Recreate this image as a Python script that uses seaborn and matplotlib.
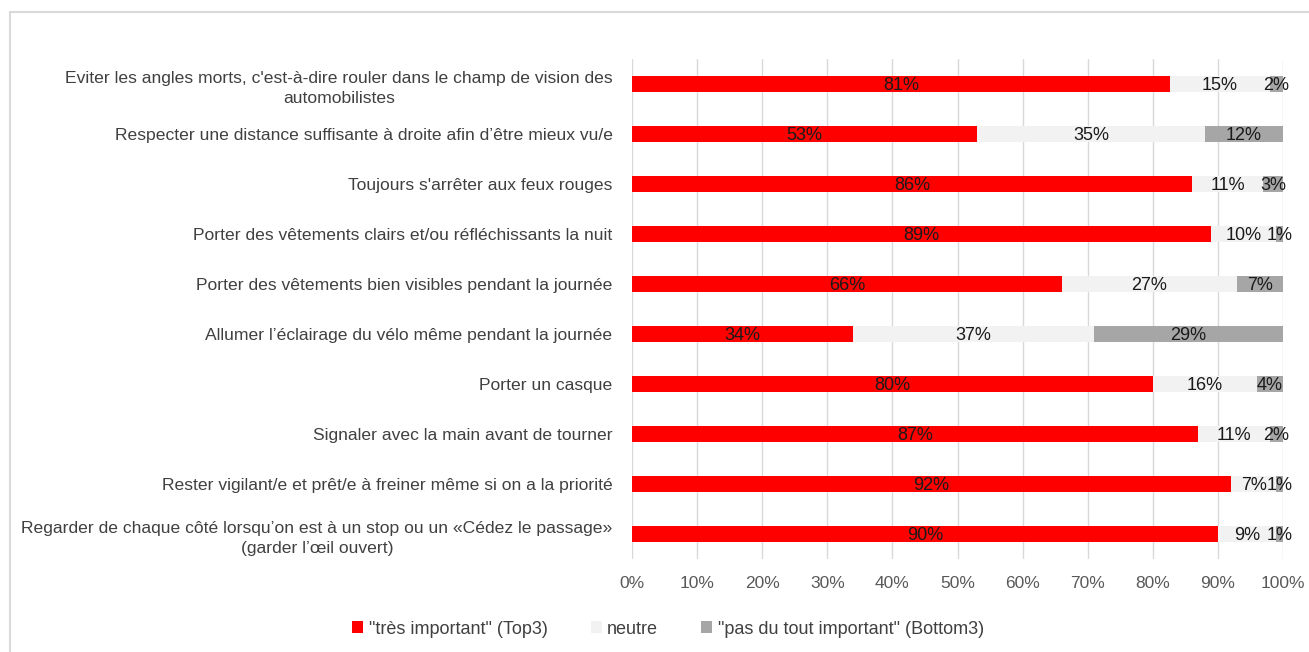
import matplotlib
matplotlib.use("Agg")
import matplotlib.pyplot as plt
from matplotlib.patches import Rectangle, Patch
from matplotlib.ticker import PercentFormatter
import seaborn as sns
import pandas as pd
import numpy as np

categories = [
    "Eviter les angles morts, c'est-à-dire rouler dans le champ de vision des\nautomobilistes",
    "Respecter une distance suffisante à droite afin d’être mieux vu/e",
    "Toujours s'arrêter aux feux rouges",
    "Porter des vêtements clairs et/ou réfléchissants la nuit",
    "Porter des vêtements bien visibles pendant la journée",
    "Allumer l’éclairage du vélo même pendant la journée",
    "Porter un casque",
    "Signaler avec la main avant de tourner",
    "Rester vigilant/e et prêt/e à freiner même si on a la priorité",
    "Regarder de chaque côté lorsqu’on est à un stop ou un «Cédez le passage»\n(garder l’œil ouvert)",
]
tres_important = [81, 53, 86, 89, 66, 34, 80, 87, 92, 90]
neutre = [15, 35, 11, 10, 27, 37, 16, 11, 7, 9]
pas_important = [2, 12, 3, 1, 7, 29, 4, 2, 1, 1]
series_names = ['"très important" (Top3)', 'neutre', '"pas du tout important" (Bottom3)']
colors = ["#FF0000", "#F2F2F2", "#A6A6A6"]
xticks = [0, 10, 20, 30, 40, 50, 60, 70, 80, 90, 100]

df = pd.DataFrame({"cat": categories, "a": tres_important, "b": neutre, "c": pas_important})
tot = df[["a", "b", "c"]].sum(axis=1)
df["sa"] = df["a"] / tot * 100
df["sb"] = df["b"] / tot * 100
df["sc"] = df["c"] / tot * 100
df["cum_a"] = df["sa"]
df["cum_b"] = df["sa"] + df["sb"]
df["cum_c"] = df["sa"] + df["sb"] + df["sc"]

sns.set_theme(style="white")
plt.rcParams["font.family"] = ["Liberation Sans", "DejaVu Sans"]

fig = plt.figure(figsize=(13.09, 6.52), dpi=100)
ax = fig.add_axes([632 / 1309, 1 - 559 / 652, (1283 - 632) / 1309, 500 / 652])

bw = 0.32
sns.barplot(data=df, x="cum_c", y="cat", orient="h", color=colors[2], width=bw, ax=ax,
            saturation=1, linewidth=0, order=categories, zorder=3)
sns.barplot(data=df, x="cum_b", y="cat", orient="h", color=colors[1], width=bw, ax=ax,
            saturation=1, linewidth=0, order=categories, zorder=3)
sns.barplot(data=df, x="cum_a", y="cat", orient="h", color=colors[0], width=bw, ax=ax,
            saturation=1, linewidth=0, order=categories, zorder=3)

# data labels
for i, row in df.iterrows():
    starts = [0, row["cum_a"], row["cum_b"]]
    widths = [row["sa"], row["sb"], row["sc"]]
    raws = [row["a"], row["b"], row["c"]]
    for s, w, r in zip(starts, widths, raws):
        ax.text(s + w / 2, i + 0.03, f"{r}%", ha="center", va="center", fontsize=13,
                color="#1a1a1a", zorder=5)

ax.set_xlim(0, 100)
ax.set_ylim(len(categories) - 0.5, -0.5)
ax.set_xticks(xticks)
ax.xaxis.set_major_formatter(PercentFormatter(decimals=0))
ax.set_xlabel("")
ax.set_ylabel("")
ax.grid(axis="x", color="#D9D9D9", linewidth=1, zorder=0)
ax.grid(axis="y", visible=False)
for sp in ax.spines.values():
    sp.set_visible(False)
ax.tick_params(axis="x", length=0, pad=12, labelsize=12.5, labelcolor="#595959")
ax.tick_params(axis="y", length=0, pad=14, labelsize=12.6, labelcolor="#404040")
for lab in ax.get_yticklabels():
    lab.set_multialignment("center")
    lab.set_linespacing(1.45)

# chart border
fig.patches.append(Rectangle((10 / 1309, -0.05), 1.1, 1 - 12 / 652 + 0.05,
                             transform=fig.transFigure, fill=False,
                             edgecolor="#D9D9D9", linewidth=1.5))

handles = [Patch(facecolor=c, edgecolor="none") for c in colors]
fig.legend(handles, series_names, loc="center", bbox_to_anchor=(668 / 1309, 1 - 629 / 652),
           ncol=3, frameon=False, fontsize=13, labelcolor="#404040",
           handlelength=0.6, handleheight=0.6, handletextpad=0.3, columnspacing=2.4)

fig.savefig("out.png", dpi=100)
